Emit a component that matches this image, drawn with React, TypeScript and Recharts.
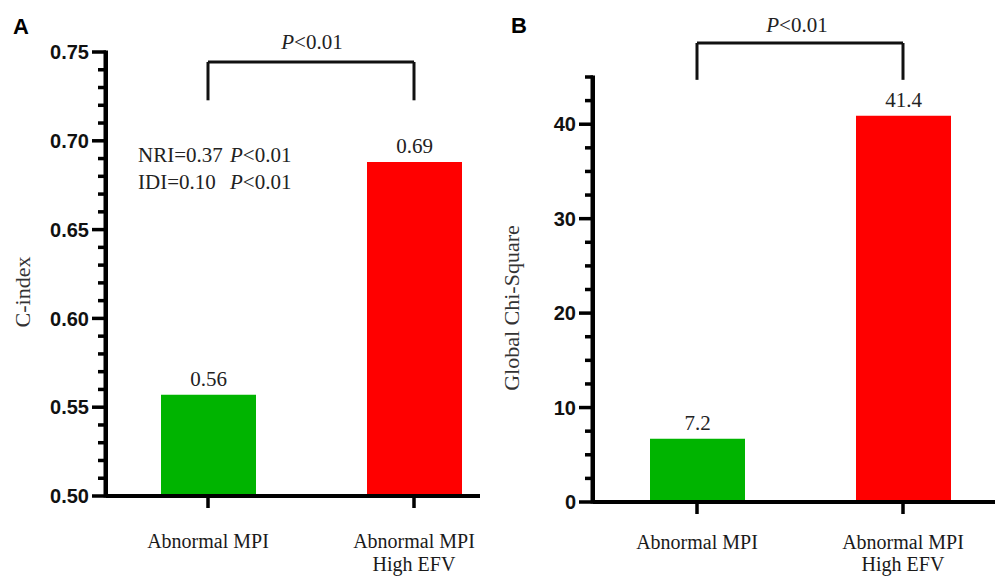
import { Bar, BarChart, Cell, LabelList, ReferenceLine, XAxis, YAxis } from "recharts";

const categories = ["Abnormal MPI", "Abnormal MPI\nHigh EFV"];
const barColors = ["#00b400", "#ff0000"];

// panel A
const cIndex = [0.557, 0.688];
const cIndexLabels = ["0.56", "0.69"];
const cIndexTicks = [
  0.5, 0.51, 0.52, 0.53, 0.54, 0.55, 0.56, 0.57, 0.58, 0.59, 0.6, 0.61, 0.62,
  0.63, 0.64, 0.65, 0.66, 0.67, 0.68, 0.69, 0.7, 0.71, 0.72, 0.73, 0.74, 0.75,
];
const cIndexMajor = [0.5, 0.55, 0.6, 0.65, 0.7, 0.75];

// panel B
const chiSquare = [6.7, 40.9];
const chiSquareLabels = ["7.2", "41.4"];
const chiTicks = [
  0, 2.5, 5, 7.5, 10, 12.5, 15, 17.5, 20, 22.5, 25, 27.5, 30, 32.5, 35, 37.5,
  40, 42.5, 45,
];
const chiMajor = [0, 10, 20, 30, 40];

const serif = "'Liberation Serif', 'Times New Roman', serif";
const sans = "'Liberation Sans', Arial, sans-serif";

const dataA = categories.map((name, i) => ({ name, value: cIndex[i], label: cIndexLabels[i] }));
const dataB = categories.map((name, i) => ({ name, value: chiSquare[i], label: chiSquareLabels[i] }));

// y ticks: long/short marks, labels only on majors; the first tick also draws the axis spine
function YTick(props: any) {
  const { x, y, payload, majors, digits, span, index } = props;
  const v = payload.value;
  const major = majors.some((m: number) => Math.abs(m - v) < 1e-6);
  const len = major ? 14 : 8;
  return (
    <g>
      {index === 0 && <rect x={x - 2.5} y={y - span - 1.5} width={4.5} height={span + 3} fill="#000" />}
      <rect x={x - len} y={y - 1.75} width={len} height={3.5} fill="#000" />
      {major && (
        <text
          x={x - 17}
          y={y}
          dy="0.36em"
          textAnchor="end"
          fontFamily={sans}
          fontWeight="bold"
          fontSize={20}
          fill="#111"
        >
          {digits ? v.toFixed(digits) : String(v)}
        </text>
      )}
    </g>
  );
}

function XTick(props: any) {
  const { x, y, payload, first, second } = props;
  const lines = String(payload.value).split("\n");
  return (
    <g>
      <rect x={x - 1.75} y={y - 12} width={3.5} height={12} fill="#000" />
      <text x={x} y={y} textAnchor="middle" fontFamily={serif} fontSize={20} fill="#1a1a1a">
        {lines.map((l, i) => (
          <tspan key={i} x={x} y={y + (i === 0 ? first : second)}>
            {l}
          </tspan>
        ))}
      </text>
    </g>
  );
}

const bracket = { stroke: "#111", strokeWidth: 3 };

export default function App() {
  return (
    <div style={{ position: "absolute", left: 0, top: 0, width: 995, height: 576, background: "#fff" }}>
      <div style={{ position: "absolute", left: 0, top: 0 }}>
        <BarChart width={490} height={576} data={dataA} margin={{ top: 52, right: 10, bottom: 10, left: 6 }}>
          <XAxis
            dataKey="name"
            height={70}
            interval={0}
            padding={{ left: -1, right: -37 }}
            axisLine={{ stroke: "#000", strokeWidth: 4 }}
            tickLine={false}
            tickSize={12}
            tickMargin={0}
            tick={<XTick first={40} second={63} />}
          />
          <YAxis
            type="number"
            domain={[0.5, 0.75]}
            ticks={cIndexTicks}
            interval={0}
            width={100}
            axisLine={false}
            tickLine={false}
            tickSize={0}
            tickMargin={0}
            tick={<YTick majors={cIndexMajor} digits={2} span={444} />}
          />
          <Bar dataKey="value" barSize={95} isAnimationActive={false}>
            {dataA.map((d, i) => (
              <Cell key={d.name} fill={barColors[i]} />
            ))}
            <LabelList dataKey="label" position="top" offset={9} fill="#222" fontSize={21} fontFamily={serif} />
          </Bar>
          <ReferenceLine
            ifOverflow="visible"
            segment={[{ x: categories[0], y: 0.7444 }, { x: categories[1], y: 0.7444 }]}
            {...bracket}
          />
          <ReferenceLine
            ifOverflow="visible"
            segment={[{ x: categories[0], y: 0.7444 }, { x: categories[0], y: 0.7228 }]}
            {...bracket}
          />
          <ReferenceLine
            ifOverflow="visible"
            segment={[{ x: categories[1], y: 0.7444 }, { x: categories[1], y: 0.7228 }]}
            {...bracket}
          />
        </BarChart>
      </div>
      <div style={{ position: "absolute", left: 495, top: 0 }}>
        <BarChart width={500} height={576} data={dataB} margin={{ top: 77, right: 0, bottom: 10, left: 8 }}>
          <XAxis
            dataKey="name"
            height={64}
            interval={0}
            padding={{ left: 1, right: -11 }}
            axisLine={{ stroke: "#000", strokeWidth: 4 }}
            tickLine={false}
            tickSize={12}
            tickMargin={0}
            tick={<XTick first={35} second={57} />}
          />
          <YAxis
            type="number"
            domain={[0, 45]}
            ticks={chiTicks}
            interval={0}
            width={90}
            axisLine={false}
            tickLine={false}
            tickSize={0}
            tickMargin={0}
            tick={<YTick majors={chiMajor} digits={0} span={425} />}
          />
          <Bar dataKey="value" barSize={95} isAnimationActive={false}>
            {dataB.map((d, i) => (
              <Cell key={d.name} fill={barColors[i]} />
            ))}
            <LabelList dataKey="label" position="top" offset={9} fill="#222" fontSize={21} fontFamily={serif} />
          </Bar>
          <ReferenceLine
            ifOverflow="visible"
            segment={[{ x: categories[0], y: 48.6 }, { x: categories[1], y: 48.6 }]}
            {...bracket}
          />
          <ReferenceLine
            ifOverflow="visible"
            segment={[{ x: categories[0], y: 48.6 }, { x: categories[0], y: 44.7 }]}
            {...bracket}
          />
          <ReferenceLine
            ifOverflow="visible"
            segment={[{ x: categories[1], y: 48.6 }, { x: categories[1], y: 44.7 }]}
            {...bracket}
          />
        </BarChart>
      </div>
      <svg
        width={995}
        height={576}
        style={{ position: "absolute", left: 0, top: 0, pointerEvents: "none" }}
      >
        <text x={13} y={34} fontFamily={sans} fontWeight="bold" fontSize={22} fill="#000">
          A
        </text>
        <text x={511} y={33} fontFamily={sans} fontWeight="bold" fontSize={22} fill="#000">
          B
        </text>
        <text
          x={23}
          y={292}
          dy="0.3em"
          textAnchor="middle"
          transform="rotate(-90 23 292)"
          fontFamily={serif}
          fontSize={22}
          fill="#333"
        >
          C-index
        </text>
        <text
          x={512}
          y={308}
          dy="0.3em"
          textAnchor="middle"
          transform="rotate(-90 512 308)"
          fontFamily={serif}
          fontSize={22}
          fill="#333"
        >
          Global Chi-Square
        </text>
        <text x={312} y={49} textAnchor="middle" fontFamily={serif} fontSize={21} fill="#222">
          <tspan fontStyle="italic">P</tspan>&lt;0.01
        </text>
        <text x={797} y={32} textAnchor="middle" fontFamily={serif} fontSize={21} fill="#222">
          <tspan fontStyle="italic">P</tspan>&lt;0.01
        </text>
        <text x={138} y={162} fontFamily={serif} fontSize={21} fill="#222">
          NRI=0.37
          <tspan x={230} fontStyle="italic">P</tspan>&lt;0.01
        </text>
        <text x={138} y={189} fontFamily={serif} fontSize={21} fill="#222">
          IDI=0.10
          <tspan x={230} fontStyle="italic">P</tspan>&lt;0.01
        </text>
      </svg>
    </div>
  );
}
